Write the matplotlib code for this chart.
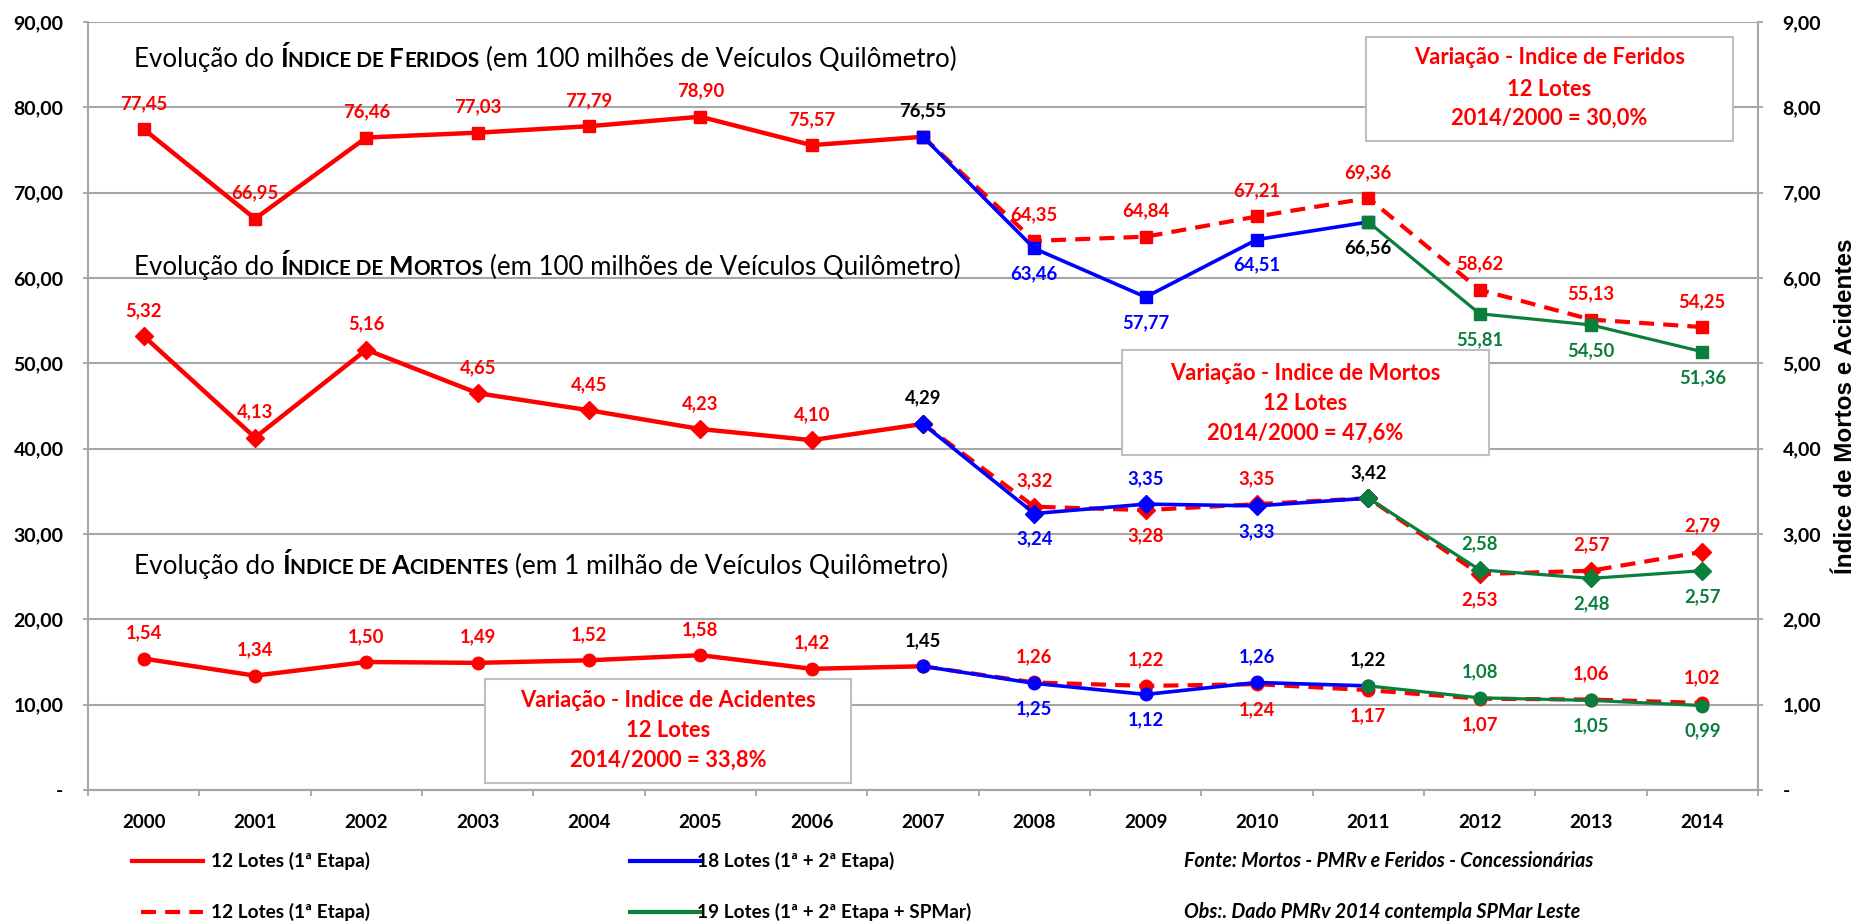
import matplotlib
matplotlib.use("Agg")
import matplotlib.pyplot as plt
from matplotlib.lines import Line2D
from matplotlib.patches import Rectangle
import numpy as np

plt.rcParams['font.family'] = ['Lato', 'DejaVu Sans']

# ---------------- data ----------------
years = list(range(2000, 2015))
year_labels = [str(y) for y in years]
left_ticks = [0, 10, 20, 30, 40, 50, 60, 70, 80, 90]
left_tick_labels = ['-', '10,00', '20,00', '30,00', '40,00', '50,00', '60,00', '70,00', '80,00', '90,00']
right_ticks = [0, 1, 2, 3, 4, 5, 6, 7, 8, 9]
right_tick_labels = ['-', '1,00', '2,00', '3,00', '4,00', '5,00', '6,00', '7,00', '8,00', '9,00']

yrs_12 = years[0:8]      # 2000-2007
yrs_12b = years[7:15]    # 2007-2014
yrs_18 = years[7:12]     # 2007-2011
yrs_19 = years[11:15]    # 2011-2014

# Feridos (left axis)
fer_12 = [77.45, 66.95, 76.46, 77.03, 77.79, 78.90, 75.57, 76.55]
fer_12b = [76.55, 64.35, 64.84, 67.21, 69.36, 58.62, 55.13, 54.25]
fer_18 = [76.55, 63.46, 57.77, 64.51, 66.56]
fer_19 = [66.56, 55.81, 54.50, 51.36]
# Mortos (right axis)
mor_12 = [5.32, 4.13, 5.16, 4.65, 4.45, 4.23, 4.10, 4.29]
mor_12b = [4.29, 3.32, 3.28, 3.35, 3.42, 2.53, 2.57, 2.79]
mor_18 = [4.29, 3.24, 3.35, 3.33, 3.42]
mor_19 = [3.42, 2.58, 2.48, 2.57]
# Acidentes (right axis)
aci_12 = [1.54, 1.34, 1.50, 1.49, 1.52, 1.58, 1.42, 1.45]
aci_12b = [1.45, 1.26, 1.22, 1.24, 1.17, 1.07, 1.06, 1.02]
aci_18 = [1.45, 1.25, 1.12, 1.26, 1.22]
aci_19 = [1.22, 1.08, 1.05, 0.99]

# label placement (a=above, b=below; upper case = black label; None = no label)
fer_12_side = ['a'] * 7 + ['A']
fer_12b_side = [None, 'a', 'a', 'a', 'a', 'a', 'a', 'a']
fer_18_side = [None, 'b', 'b', 'b', 'B']
fer_19_side = [None, 'b', 'b', 'b']
mor_12_side = ['a'] * 7 + ['A']
mor_12b_side = [None, 'a', 'b', 'a', None, 'b', 'a', 'a']
mor_18_side = [None, 'b', 'a', 'b', 'A']
mor_19_side = [None, 'a', 'b', 'b']
aci_12_side = ['a'] * 7 + ['A']
aci_12b_side = [None, 'a', 'a', 'b', 'b', 'b', 'a', 'a']
aci_18_side = [None, 'b', 'b', 'a', 'A']
aci_19_side = [None, 'a', 'b', 'b']

legend_labels = ['12 Lotes (1ª Etapa)', '18 Lotes (1ª + 2ª Etapa)',
                 '12 Lotes (1ª Etapa)', '19 Lotes (1ª + 2ª Etapa + SPMar)']
note_texts = ['Fonte: Mortos - PMRv e Feridos - Concessionárias',
              'Obs:. Dado PMRv 2014 contempla SPMar Leste']
box_fer = ['Variação - Indice de Feridos', '12 Lotes', '2014/2000 = 30,0%']
box_mor = ['Variação - Indice de Mortos', '12 Lotes', '2014/2000 = 47,6%']
box_aci = ['Variação - Indice de Acidentes', '12 Lotes', '2014/2000 = 33,8%']
right_axis_title = 'Índice de Mortos e Acidentes'

# ---------------- style ----------------
RED = '#FF0000'
BLUE = '#0000FF'
GREEN = '#0A7F3D'
GRID = '#A6A6A6'
W, H = 1862, 921
AX_L, AX_R, AX_T, AX_B = 88, 1758, 22, 790

fig = plt.figure(figsize=(W / 100, H / 100), dpi=100)
ax = fig.add_axes([AX_L / W, 1 - AX_B / H, (AX_R - AX_L) / W, (AX_B - AX_T) / H])
ax2 = ax.twinx()
renderer = fig.canvas.get_renderer()


def fx(px):
    return px / W


def fy(py):
    return 1 - py / H


def axx(px):
    return (px - AX_L) / (AX_R - AX_L)


def axy(py):
    return (AX_B - py) / (AX_B - AX_T)


def measure(txt, size, **kw):
    t1 = fig.text(0, 0, '|' + txt + '|', fontsize=size, **kw)
    t2 = fig.text(0, 0, '||', fontsize=size, **kw)
    w = t1.get_window_extent(renderer).width - t2.get_window_extent(renderer).width
    t1.remove()
    t2.remove()
    return w


def fit(txt, size, target, **kw):
    return size * target / measure(txt, size, **kw)


# axes setup
ax.set_xlim(-0.5, 14.5)
ax.set_ylim(0, 90)
ax2.set_ylim(0, 9)
ax.set_axisbelow(True)
ax.yaxis.grid(True, color=GRID, lw=1.5)
ax.set_yticks(left_ticks)
ax.set_yticklabels(left_tick_labels, fontweight='bold', fontsize=14)
ax2.set_yticks(right_ticks)
ax2.set_yticklabels(right_tick_labels, fontweight='bold', fontsize=14)
ax.set_xticks(range(15))
ax.set_xticklabels(year_labels, fontweight='bold', fontsize=13.5)
ax.set_xticks(np.arange(-0.5, 15, 1), minor=True)
ax.tick_params(axis='x', which='major', length=0, pad=17)
ax.tick_params(axis='x', which='minor', length=4.5, color=GRID, width=1.3)
ax.tick_params(axis='y', length=3.6, color=GRID, width=1.3, pad=14)
ax2.tick_params(axis='y', length=3.6, color=GRID, width=1.3, pad=14)
for a in (ax, ax2):
    a.spines['top'].set_visible(False)
    for s in ('left', 'right', 'bottom'):
        a.spines[s].set_color(GRID)
        a.spines[s].set_linewidth(1.5)
ax.spines['right'].set_visible(False)
ax2.spines['left'].set_visible(False)


def series(axis, yrs, vals, sides, color, ls, lw, marker, ms, z):
    xs = [years.index(y) for y in yrs]
    axis.plot(xs, vals, color=color, ls=ls, lw=lw, marker=marker, ms=ms,
              mfc=color, mec=color, zorder=z, solid_capstyle='butt', dash_capstyle='butt')
    for x, v, s in zip(xs, vals, sides):
        if s is None:
            continue
        c = 'black' if s.isupper() else color
        off = 18.5 if s.lower() == 'a' else -18.5
        axis.annotate(f'{v:.2f}'.replace('.', ','), (x, v), xytext=(0, off),
                      textcoords='offset points', ha='center', va='center',
                      fontsize=13.3, fontweight='bold', color=c, zorder=8)


DASH = (0, (3.6, 2.2))
for axis, data, mk in [
    (ax, [(fer_12, fer_12_side), (fer_12b, fer_12b_side), (fer_18, fer_18_side), (fer_19, fer_19_side)], 's'),
    (ax2, [(mor_12, mor_12_side), (mor_12b, mor_12b_side), (mor_18, mor_18_side), (mor_19, mor_19_side)], 'D'),
    (ax2, [(aci_12, aci_12_side), (aci_12b, aci_12b_side), (aci_18, aci_18_side), (aci_19, aci_19_side)], 'o'),
]:
    ms = {'s': 9, 'D': 9, 'o': 9}[mk]
    series(axis, yrs_12, data[0][0], data[0][1], RED, '-', 3.2, mk, ms, 3)
    series(axis, yrs_12b, data[1][0], data[1][1], RED, DASH, 3, mk, ms, 4)
    series(axis, yrs_18, data[2][0], data[2][1], BLUE, '-', 2.6, mk, ms, 5)
    series(axis, yrs_19, data[3][0], data[3][1], GREEN, '-', 2.3, mk, ms, 6)

# text boxes
box_size = fit(box_fer[0], 14, 272, fontweight='bold')
for lines, (x0, x1, y0, y1), ys in [
    (box_fer, (1366, 1733, 37, 141), (58, 89, 118)),
    (box_mor, (1122, 1489, 350, 455), (373, 403, 433)),
    (box_aci, (485, 851, 679, 783), (700, 730, 760)),
]:
    ax.add_patch(Rectangle((axx(x0), axy(y1)), axx(x1) - axx(x0), axy(y0) - axy(y1),
                           transform=ax.transAxes, facecolor='white', edgecolor='#BFBFBF',
                           lw=1.5, zorder=2))
    for txt, yy in zip(lines, ys):
        ax.text(axx((x0 + x1) / 2), axy(yy), txt, transform=ax.transAxes, ha='center',
                va='center', fontsize=box_size, fontweight='bold', color=RED, zorder=2.5)


# titles with small caps
def rich_line(pieces, x0, ybase, target, base=19):
    ws = [measure(t, base * r, fontweight=wt) for t, r, wt in pieces]
    scale = target / sum(ws)
    x = x0
    for (t, r, wt) in pieces:
        w = measure(t, base * r * scale, fontweight=wt)
        if t.strip():
            fig.text(fx(x), fy(ybase), t, fontsize=base * r * scale, fontweight=wt,
                     ha='left', va='baseline', color='black')
        x += w


SC = 0.8
for big1, rest1, title_tail, yb, tw in [
    ('F', 'ERIDOS', '(em 100 milhões de Veículos Quilômetro)', 67, 824),
    ('M', 'ORTOS', '(em 100 milhões de Veículos Quilômetro)', 275, 826),
    ('A', 'CIDENTES', '(em 1 milhão de Veículos Quilômetro)', 574, 814),
]:
    rich_line([('Evolução do', 1, 'normal'), (' ', 1, 'normal'), ('Í', 1, 'bold'),
               ('NDICE DE', SC, 'bold'), (' ', SC, 'bold'), (big1, 1, 'bold'),
               (rest1, SC, 'bold'), (' ', 1, 'normal'), (title_tail, 1, 'normal')],
              134, yb, tw)

# right axis title
rsize = fit(right_axis_title, 17, 335, fontweight='bold', family='Liberation Sans')
fig.text(fx(1846), fy(406), right_axis_title, rotation=90, ha='center', va='center',
         fontsize=rsize, fontweight='bold', family='Liberation Sans')

# legend (manual)
leg_size = fit(legend_labels[0], 14, 160, fontweight='bold')
fig.add_artist(Line2D([fx(132), fx(203)], [fy(861)] * 2, color=RED, lw=3, transform=fig.transFigure))
fig.add_artist(Line2D([fx(141), fx(203)], [fy(912)] * 2, color=RED, lw=3, ls=DASH, transform=fig.transFigure))
fig.add_artist(Line2D([fx(630), fx(702)], [fy(861)] * 2, color=BLUE, lw=3, transform=fig.transFigure))
fig.add_artist(Line2D([fx(630), fx(702)], [fy(912)] * 2, color=GREEN, lw=3, transform=fig.transFigure))
for txt, (xx, yy) in zip(legend_labels, [(211, 861), (697, 861), (211, 912), (697, 912)]):
    fig.text(fx(xx), fy(yy), txt, fontsize=leg_size, fontweight='bold', ha='left', va='center')

note_size = fit(note_texts[0], 14, 411, fontweight='bold', style='italic')
for txt, yy in zip(note_texts, (861, 912)):
    fig.text(fx(1184), fy(yy), txt, fontsize=note_size, fontweight='bold', style='italic',
             ha='left', va='center')

fig.savefig('out.png', dpi=100)
